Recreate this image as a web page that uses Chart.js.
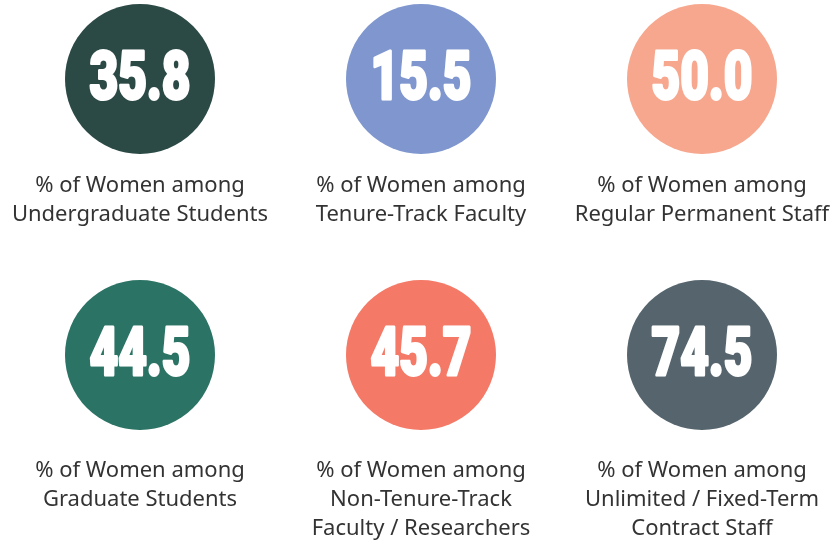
<!DOCTYPE html>
<html>
<head>
<meta charset="utf-8">
<script src="https://cdn.jsdelivr.net/npm/chart.js@4/dist/chart.umd.min.js"></script>
<style>
  html, body { margin: 0; padding: 0; background: #fff; }
  #wrap { width: 835px; height: 543px; }
</style>
</head>
<body>
<div id="wrap"><canvas id="stats" width="835" height="543"></canvas></div>
<script>
const values = [35.8, 15.5, 50.0, 44.5, 45.7, 74.5];
const captions = [
  ['% of Women among', 'Undergraduate Students'],
  ['% of Women among', 'Tenure-Track Faculty'],
  ['% of Women among', 'Regular Permanent Staff'],
  ['% of Women among', 'Graduate Students'],
  ['% of Women among', 'Non-Tenure-Track', 'Faculty / Researchers'],
  ['% of Women among', 'Unlimited / Fixed-Term', 'Contract Staff'],
];
const colors = ['#2c4a45', '#7f97ce', '#f6a78e', '#2b7364', '#f47966', '#55646d'];

// grid slot for each stat: 3 per row
const points = values.map((v, i) => ({ x: i % 3, y: Math.floor(i / 3) }));

const labelsPlugin = {
  id: 'circleLabels',
  afterDatasetsDraw(chart) {
    const ctx = chart.ctx;
    const meta = chart.getDatasetMeta(0);
    meta.data.forEach((pt, i) => {
      const row = Math.floor(i / 3);
      ctx.save();
      ctx.textAlign = 'center';
      ctx.textBaseline = 'middle';
      // big number, squeezed to look like a condensed display face
      ctx.save();
      ctx.translate(pt.x, pt.y + 3);
      ctx.scale(0.74, 1);
      ctx.fillStyle = '#fff';
      ctx.strokeStyle = '#fff';
      ctx.lineWidth = 3;
      ctx.lineJoin = 'round';
      ctx.font = '900 67px Roboto, "Liberation Sans", sans-serif';
      const txt = values[i].toFixed(1);
      ctx.strokeText(txt, 0, 0);
      ctx.fillText(txt, 0, 0);
      ctx.restore();
      // caption
      ctx.fillStyle = '#333';
      ctx.font = '400 22px "Noto Sans", sans-serif';
      ctx.textBaseline = 'alphabetic';
      const top = pt.y + (row === 0 ? 113 : 122);
      captions[i].forEach((line, j) => {
        ctx.fillText(line, pt.x, top + j * 29);
      });
      ctx.restore();
    });
  },
};

new Chart(document.getElementById('stats'), {
  type: 'scatter',
  data: {
    datasets: [{
      data: points,
      backgroundColor: colors,
      borderWidth: 0,
      pointRadius: 75,
      pointHoverRadius: 75,
      clip: false,
    }],
  },
  options: {
    responsive: false,
    animation: false,
    events: [],
    layout: { padding: 0, autoPadding: false },
    plugins: { legend: { display: false }, tooltip: { enabled: false } },
    scales: {
      x: { type: 'linear', display: false, min: -140 / 281, max: 695 / 281 },
      y: { type: 'linear', display: false, reverse: true, min: -79 / 276, max: 464 / 276 },
    },
  },
  plugins: [labelsPlugin],
});
</script>
</body>
</html>
